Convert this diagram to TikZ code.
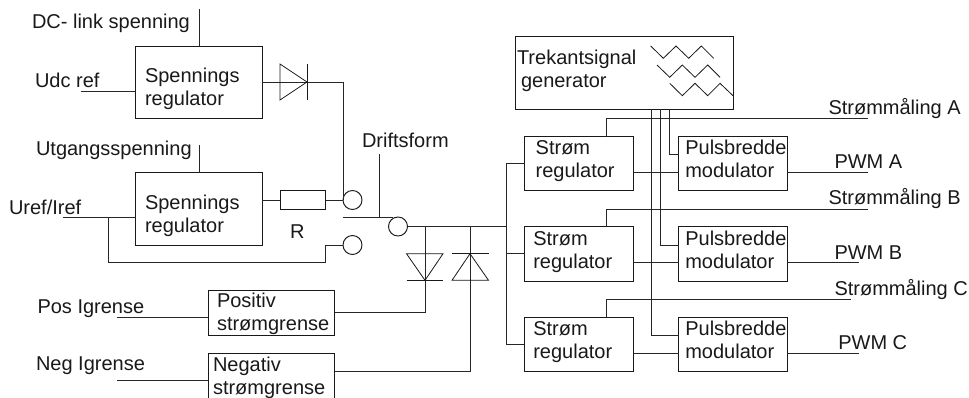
\documentclass[tikz,border=0pt]{standalone}
\usepackage{fontspec}
\setmainfont{Liberation Sans}
\begin{document}
\begin{tikzpicture}[x=0.75pt,y=-0.75pt,
  wire/.style={draw=black!85,line width=0.72pt},
  blk/.style={draw=black!90,line width=0.72pt,fill=none,inner sep=0pt,outer sep=0pt,rectangle},
  wh/.style 2 args={minimum width=#1*0.75pt,minimum height=#2*0.75pt},
  contact/.style={draw=black!90,line width=0.72pt,circle,inner sep=0pt,outer sep=0pt,minimum size=14.25pt},
  txt/.style={inner sep=0pt,outer sep=0pt,anchor=base west,font=\fontsize{15pt}{17.25pt}\selectfont,align=left,text=black!90},
  symb/.style={draw=black!90,line width=0.6pt}]
\useasboundingbox (0,0) rectangle (969,397);

% blocks
\node[blk,wh={126.5}{72}] (sr1) at (198.75,82) {};
\node[blk,wh={126.5}{72.5}] (sr2) at (198.75,208.75) {};
\node[blk,wh={45.5}{18.8}] (res) at (302.75,200) {};
\node[blk,wh={126.5}{45}] (pos) at (271.25,312.8) {};
\node[blk,wh={126.5}{46}] (neg) at (271.25,376.7) {};
\node[blk,wh={217.7}{72.5}] (tri) at (624.2,72.75) {};
\node[blk,wh={109.4}{54}] (ra) at (579,163.5) {};
\node[blk,wh={109.4}{54.3}] (rb) at (579,253.85) {};
\node[blk,wh={109.4}{54.4}] (rc) at (579,344.5) {};
\node[blk,wh={108.8}{54}] (pa) at (732.9,163.5) {};
\node[blk,wh={108.8}{54.3}] (pb) at (732.9,253.85) {};
\node[blk,wh={108.8}{54.4}] (pc) at (732.9,344.5) {};
\node[contact] (c1) at (352.5,200) {};
\node[contact] (c3) at (352.5,245) {};
\node[contact] (c2) at (398,226.5) {};

% texts
\node[txt] (t1) at (145,105) {Spennings\\regulator};
\node[txt] (t2) at (145,232) {Spennings\\regulator};
\node[txt] (t3) at (217,330) {Positiv\\strømgrense};
\node[txt] (t4) at (213,394.7) {Negativ\\strømgrense};
\node[txt] (t5) at (517,87) {Trekantsignal\\\hspace*{3pt}generator};
\node[txt] (t6) at (535.7,177) {Strøm\\regulator};
\node[txt] (t7) at (533.3,268.3) {Strøm\\regulator};
\node[txt] (t8) at (533.3,358) {Strøm\\regulator};
\node[txt] (t9) at (685.3,177) {Pulsbredde\\modulator};
\node[txt] (t10) at (685.3,268.3) {Pulsbredde\\modulator};
\node[txt] (t11) at (685.3,358) {Pulsbredde\\modulator};
\node[txt] (l1) at (32,28) {DC- link spenning};
\node[txt] (l2) at (35,87) {Udc ref};
\node[txt] (l3) at (36,155) {Utgangsspenning};
\node[txt] (l4) at (9,214) {Uref/Iref};
\node[txt] (l5) at (290,238) {R};
\node[txt] (l6) at (362,147) {Driftsform};
\node[txt] (l7) at (37.5,313.7) {Pos Igrense};
\node[txt] (l8) at (36,370) {Neg Igrense};
\node[txt] (l9) at (828.5,114) {Strømmåling A};
\node[txt] (l10) at (834.5,168.3) {PWM A};
\node[txt] (l11) at (828.5,204) {Strømmåling B};
\node[txt] (l12) at (834.5,259) {PWM B};
\node[txt] (l13) at (834.5,295) {Strømmåling C};
\node[txt] (l14) at (838.3,349.3) {PWM C};

% free ends and junctions
\coordinate (dcin) at (199,9);
\coordinate (udcin) at (81,91);
\coordinate (utin) at (199,145);
\coordinate (urefin) at (63,217.5);
\coordinate (urefj) at (108,217.5);
\coordinate (retj) at (325.5,262.7);
\coordinate (sw) at (343,217.5);
\coordinate (swend) at (393,217.5);
\coordinate (drift) at (379.5,154);
\coordinate (d1) at (425,226.5);
\coordinate (d2) at (470,226.5);
\coordinate (negout) at (334.5,371.3);
\coordinate (bus) at (506.5,226.5);
\coordinate (posin) at (117,317.3);
\coordinate (negin) at (117,380.3);
\coordinate (sa) at (868,118);
\coordinate (sb) at (868,209);
\coordinate (sc) at (850.7,299);
\coordinate (sax) at (606,118);
\coordinate (sbx) at (606,209);
\coordinate (scx) at (606,299);
\coordinate (pwa) at (868,172.7);
\coordinate (pwb) at (859.3,262.7);
\coordinate (pwc) at (859.3,353.3);
\coordinate (fa) at (669.3,154.3);
\coordinate (fb) at (660,245);
\coordinate (fc) at (651,335.3);

% connectors, left side
\draw[wire] (dcin) -- (dcin |- sr1.north);
\draw[wire] (udcin) -- (udcin -| sr1.west);
\draw[wire] (utin) -- (utin |- sr2.north);
\draw[wire] (urefin) -- (urefin -| sr2.west);
\draw[wire] (sr1.east) -- (c1.west |- sr1.east) -- (c1.west);
\draw[wire] (sr2.east |- res.west) -- (res.west);
\draw[wire] (res.east) -- (c1.west);
\draw[wire] (urefj) -- (urefj |- retj) -- (retj) -- (retj |- c3.west) -- (c3.west);
\draw[wire] (sw) -- (swend);
\draw[wire] (drift) -- (drift |- sw);
\draw[wire] (c2.east) -- (bus);
\draw[wire] (d1) -- (d1 |- pos.east) -- (pos.east);
\draw[wire] (d2) -- (d2 |- negout) -- (negout);
\draw[wire] (posin) -- (posin -| pos.west);
\draw[wire] (negin) -- (negin -| neg.west);

% diodes
\draw[symb] (280,64) -- (307,82) -- (280,100) -- cycle;
\draw[symb] (307,64) -- (307,100);
\draw[symb] (406.5,253.7) -- (443,253.7) -- (425,280.3) -- cycle;
\draw[symb] (406.5,280.3) -- (443,280.3);
\draw[symb] (452,280.3) -- (488.5,280.3) -- (470,253.7) -- cycle;
\draw[symb] (452,253.7) -- (488.5,253.7);

% bus to current regulators
\draw[wire] (ra.west) -- (ra.west -| bus) -- (rc.west -| bus) -- (rc.west);
\draw[wire] (rb.west) -- (rb.west -| bus);

% triangle signals
\draw[wire] (tri.south -| fa) -- (fa) -- (fa -| pa.west);
\draw[wire] (tri.south -| fb) -- (fb) -- (fb -| pb.west);
\draw[wire] (tri.south -| fc) -- (fc) -- (fc -| pc.west);
\draw[symb] (650.7,46) -- (663.3,58.3) -- (676,46) -- (688.7,58.3) -- (701.3,46) -- (713.7,58.3);
\draw[symb] (657,65) -- (669.7,77.3) -- (682.3,65) -- (695,77.3) -- (707.7,65) -- (720,77.3);
\draw[symb] (669.7,83.3) -- (682.3,95.7) -- (695,83.3) -- (707.7,95.7) -- (720,83.3) -- (733,95.7);

% measurement feedback
\draw[wire] (sa) -- (sax) -- (sax |- ra.north);
\draw[wire] (sb) -- (sbx) -- (sbx |- rb.north);
\draw[wire] (sc) -- (scx) -- (scx |- rc.north);

% regulator to modulator, PWM outputs
\draw[wire] (pwa -| ra.east) -- (pwa -| pa.west);
\draw[wire] (pwb -| rb.east) -- (pwb -| pb.west);
\draw[wire] (pwc -| rc.east) -- (pwc -| pc.west);
\draw[wire] (pwa -| pa.east) -- (pwa);
\draw[wire] (pwb -| pb.east) -- (pwb);
\draw[wire] (pwc -| pc.east) -- (pwc);
\end{tikzpicture}
\end{document}
